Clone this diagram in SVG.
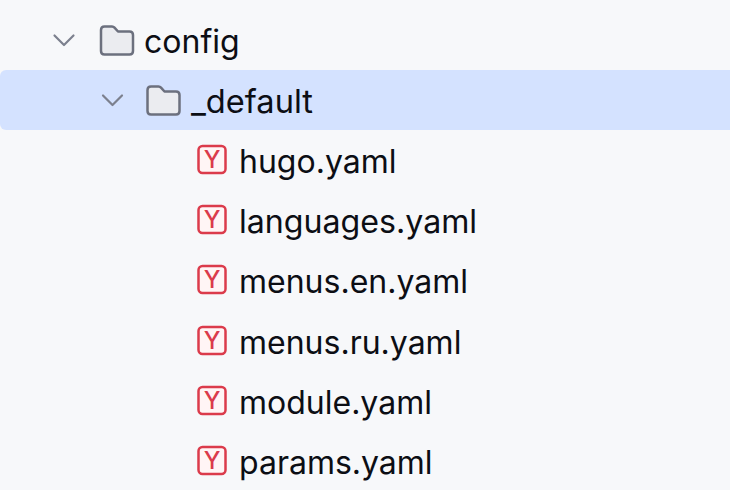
<svg xmlns="http://www.w3.org/2000/svg" width="730" height="490" viewBox="0 0 730 490">
<style>
text{font-family:"Inter","Liberation Sans",sans-serif;font-size:32px;fill:#0c0e14}
text.w{font-size:32.15px}
text.d{font-size:32.6px}
.chev{fill:none;stroke:#7c808e;stroke-width:2.2;stroke-linecap:round;stroke-linejoin:round}
.folder{fill:#ebecf0;stroke:#6c707e;stroke-width:2.5;stroke-linejoin:round}
.yr{fill:#fff5f5;stroke:#db3b4b;stroke-width:2.5}
text.y{font-size:24px;font-weight:500;fill:#db3b4b;text-anchor:middle}
</style>
<defs>
<path id="f" d="M5 1.5H12.5Q14 1.500 15 2.600L18.500 6.500H30Q33.500 6.500 33.500 10V26Q33.500 29.500 30 29.500H5Q1.500 29.500 1.500 26V5Q1.500 1.500 5 1.500Z" class="folder"/>
<g id="i"><rect x="198.500" y="146" width="27" height="27" rx="4" class="yr"/></g>
</defs>
<rect width="730" height="490" fill="#f7f8fa"/>
<rect id="selection" x="0" y="70" width="740" height="60" rx="6" fill="#d4e2ff"/>
<g id="config"><path class="chev" d="M54.500 35.500L64 45L73.500 35.500"/><use href="#f" x="99.500" y="25"/><text x="144" y="53">config</text></g>
<g id="default"><path class="chev" d="M103 95.500L112.500 105L122 95.500"/><use href="#f" x="146" y="85"/><text class="d" x="191" y="113">_default</text></g>
<g id="hugo"><use href="#i"/><text class="y" x="212" y="168">Y</text><text x="239" y="173">hugo.yaml</text></g>
<g id="languages"><use href="#i" y="60"/><text class="y" x="212" y="228">Y</text><text class="w" x="239" y="233">languages.yaml</text></g>
<g id="menus-en"><use href="#i" y="120"/><text class="y" x="212" y="288">Y</text><text x="239" y="293">menus.en.yaml</text></g>
<g id="menus-ru"><use href="#i" y="181"/><text class="y" x="212" y="349">Y</text><text x="239" y="354">menus.ru.yaml</text></g>
<g id="module"><use href="#i" y="241"/><text class="y" x="212" y="409">Y</text><text x="239" y="414">module.yaml</text></g>
<g id="params"><use href="#i" y="301"/><text class="y" x="212" y="469">Y</text><text x="239" y="474">params.yaml</text></g>
<g id="connectors"/>
</svg>
